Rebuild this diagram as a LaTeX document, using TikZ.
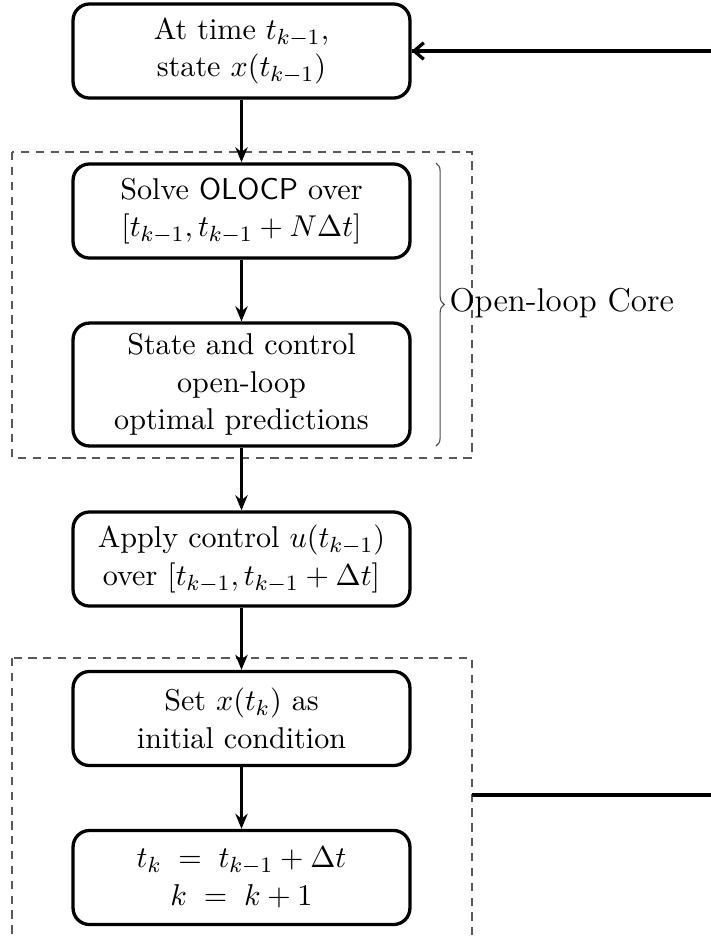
\documentclass[tikz,border=0pt]{standalone}
\usetikzlibrary{arrows.meta,decorations.pathreplacing,calc}

\tikzset{
  stepbox/.style={draw, very thick, rounded corners=6pt, align=center,
    minimum width=122.5pt, minimum height=34.2pt, inner sep=2pt,
    font=\fontsize{10.95}{13.6}\selectfont},
  flow/.style={-{Stealth[length=5.5pt,width=4.5pt]}, thick},
  feedback/.style={very thick},
  groupbox/.style={draw=black!65, dashed, dash pattern=on 3pt off 2.4pt, thin},
  bracestyle/.style={draw=black!70, thin, decorate, decoration={brace, amplitude=3pt}},
}

\begin{document}
\begin{tikzpicture}[x=0.3636pt, y=-0.3636pt]
  \useasboundingbox (0,0) rectangle (711,939);
  \clip (0,0) rectangle (711,939);

  % dashed groups
  \draw[groupbox] (12,152) rectangle (472,458);
  \draw[groupbox] (12,658) rectangle (472,990);
  \coordinate (grpR) at (472,795);

  % process boxes
  \node[stepbox] (init)  at (241.5,51)    {At time $t_{k-1}$,\\ state $x(t_{k-1})$};
  \node[stepbox] (solve) at (241.5,211)   {Solve \textsf{OLOCP} over\\ $[t_{k-1}, t_{k-1} + N\Delta t]$};
  \node[stepbox, minimum height=44.7pt] (pred) at (241.5,384.5) {State and control\\ open-loop\\ optimal predictions};
  \node[stepbox] (apply) at (241.5,559)   {Apply control $u(t_{k-1})$\\ over $[t_{k-1}, t_{k-1} + \Delta t]$};
  \node[stepbox] (setx)  at (241.5,718.5) {Set $x(t_k)$ as\\ initial condition};
  \node[stepbox] (incr)  at (241.5,877.5) {$t_k \;=\; t_{k-1} + \Delta t$\\ $k \;=\; k + 1$};

  % main flow
  \draw[flow] (init)  -- (solve);
  \draw[flow] (solve) -- (pred);
  \draw[flow] (pred)  -- (apply);
  \draw[flow] (apply) -- (setx);
  \draw[flow] (setx)  -- (incr);

  % open-loop core brace
  \coordinate (braceTop) at (436,163);
  \coordinate (braceBot) at (436,446);
  \draw[bracestyle] (braceTop) -- (braceBot);
  \node[anchor=west, inner sep=0pt, font=\fontsize{12}{14}\selectfont] (core) at (449,303) {Open-loop Core};

  % feedback loop back to the start
  \coordinate (loopR) at (780,795);
  \draw[feedback] (grpR) -- (loopR) |- (init.east);
  \draw[feedback, -{Straight Barb[length=3.5pt,width=6pt]}] (loopR |- init.east) -- (init.east);
\end{tikzpicture}
\end{document}
